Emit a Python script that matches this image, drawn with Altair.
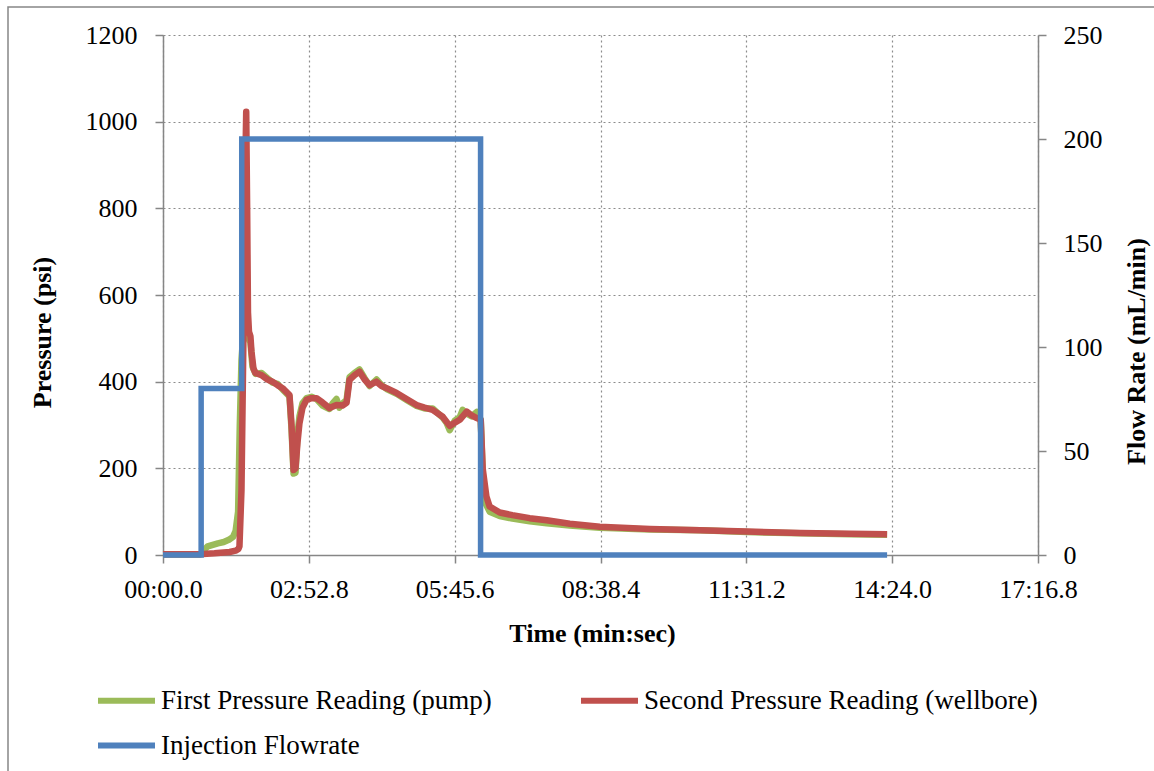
import altair as alt
import pandas as pd

# Series names and colours (Office palette)
series_names = [
    "First Pressure Reading (pump)",
    "Second Pressure Reading (wellbore)",
    "Injection Flowrate",
]
series_colors = ["#9BBB59", "#C0504D", "#4F81BD"]

# Pump pressure: elapsed seconds / psi
pump_time = [0, 43, 46, 49, 53, 58, 65, 72, 78, 83, 86, 89, 91, 93, 95, 97,
             101.3, 103.6, 106, 109.6, 116.7, 123.8, 129.7, 135.7, 141.6, 149.9,
             152.3, 154.7, 157, 159.4, 161.7, 165.3, 170, 176, 181.9, 189, 197.3,
             201, 205.6, 209, 212.8, 217.5, 221, 227, 232.9, 238.9, 244.8, 253,
             259, 265, 276.8, 288.6, 300.5, 310, 319.5, 331.4, 336, 339.7, 343,
             345.7, 351.6, 355, 359.9, 365.8, 371.8, 374, 376.5, 378.8, 381,
             383.2, 387, 399, 414, 434.5, 454.7, 482, 517.5, 577, 636.5, 692,
             755, 814, 858]
pump_psi = [1, 1, 3, 12, 20, 23, 27, 30, 35, 42, 55, 100, 300, 450, 505, 515,
            500, 490, 435, 418, 420, 408, 398, 395, 382, 366,
            290, 188, 190, 280, 320, 350, 362, 365, 360, 345, 337,
            350, 360, 340, 350, 358, 410, 420, 428, 408, 390, 405,
            392, 383, 372, 358, 344, 338, 338, 317, 305, 288, 300,
            310, 318, 335, 326, 320, 330, 318, 312, 190, 125,
            115, 100, 90, 84, 78, 73, 68, 63, 59, 57, 53,
            50, 48, 47]

# Wellbore pressure: elapsed seconds / psi
well_time = [0, 43, 61, 79, 86, 89.4, 90.6, 93, 95.3, 97.1, 98.6, 99.7, 100.7,
             101.9, 103.6, 104.8, 107.2, 109.6, 116.7, 123.8, 129.7, 135.7,
             141.6, 149.9, 152.3, 154.7, 157, 159.4, 161.7, 165.3, 170, 176,
             181.9, 189, 197.3, 205.6, 212.8, 217.5, 221, 227, 232.9, 238.9,
             244.8, 253, 259, 265, 276.8, 288.6, 300.5, 310, 319.5, 331.4,
             339.7, 345.7, 351.6, 359.9, 365.8, 371.8, 376.5, 378.8, 383.2,
             387, 399, 414, 434.5, 454.7, 482, 517.5, 577, 636.5, 692, 755,
             814, 858]
well_psi = [2, 2, 4, 7, 10, 14, 20, 150, 500, 850, 1023, 800, 560,
            515, 505, 470, 430, 420, 415, 405, 400, 392,
            385, 369, 300, 196, 200, 260, 304, 340, 358, 362,
            362, 352, 339, 346, 345, 351, 404, 415, 423, 405,
            392, 400, 390, 385, 374, 360, 346, 340, 335, 319,
            298, 305, 312, 331, 322, 316, 312, 200, 135,
            112, 98, 92, 85, 80, 72, 65, 60, 57, 54, 51,
            49, 48]

# Injection flow rate (mL/min), held until the next change
flow_time = [0, 45.2, 93.3, 376.3, 858]
flow_rate = [0, 80, 200, 0, 0]

time_ticks = [0, 172.8, 345.6, 518.4, 691.2, 864.0, 1036.8]
psi_ticks = [0, 200, 400, 600, 800, 1000, 1200]
flow_ticks = [0, 50, 100, 150, 200, 250]

pressure_df = pd.concat([
    pd.DataFrame({"t": pump_time, "value": pump_psi, "series": series_names[0]}),
    pd.DataFrame({"t": well_time, "value": well_psi, "series": series_names[1]}),
], ignore_index=True)
pressure_df["idx"] = range(len(pressure_df))

flow_df = pd.DataFrame({"t": flow_time, "value": flow_rate, "series": series_names[2]})

frame_df = pd.DataFrame({"k": [0]})

label_expr = ("format(floor(datum.value/60),'02d') + ':' + "
              "format(datum.value - 60*floor(datum.value/60), '04.1f')")

x_enc = alt.X(
    "t:Q",
    scale=alt.Scale(domain=[0, 1036.8], nice=False, zero=False),
    axis=alt.Axis(values=time_ticks, labelExpr=label_expr, title="Time (min:sec)",
                  grid=True, labelPadding=13, titleX=429, titleY=78,
                  titleBaseline="middle", titleAlign="center"),
)

legend = alt.Legend(
    title=None, orient="none", legendX=-68, legendY=634, columns=2,
    direction="horizontal",
    symbolType="stroke", symbolSize=3249, symbolStrokeWidth=6,
    labelFontSize=27, labelOffset=3, labelLimit=600,
    columnPadding=77, rowPadding=0, padding=0,
)
color_enc = alt.Color(
    "series:N",
    scale=alt.Scale(domain=series_names, range=series_colors),
    legend=legend,
)

frame = alt.Chart(frame_df).mark_rect(
    fillOpacity=0, stroke="#868686", strokeWidth=1.5
).encode(
    x=alt.value(-155), x2=alt.value(1010), y=alt.value(-28), y2=alt.value(760)
)

pressure = alt.Chart(pressure_df).mark_line(strokeWidth=6.5, strokeJoin="round").encode(
    x=x_enc,
    y=alt.Y(
        "value:Q",
        scale=alt.Scale(domain=[0, 1200], nice=False),
        axis=alt.Axis(values=psi_ticks, format="d", orient="left", title="Pressure (psi)",
                      grid=True, labelPadding=18, titleAngle=270, titleX=-121,
                      titleY=297, titleBaseline="middle", titleAlign="center"),
    ),
    color=color_enc,
    order="idx:Q",
)

flow = alt.Chart(flow_df).mark_line(strokeWidth=5.5, interpolate="step-after").encode(
    x=x_enc,
    y=alt.Y(
        "value:Q",
        scale=alt.Scale(domain=[0, 250], nice=False),
        axis=alt.Axis(values=flow_ticks, format="d", orient="right", title="Flow Rate (mL/min)",
                      grid=False, labelPadding=17, titleAngle=270, titleX=98,
                      titleY=316, titleBaseline="middle", titleAlign="center"),
    ),
    color=color_enc,
)

chart = alt.layer(frame, pressure, flow).resolve_scale(
    y="independent"
).properties(
    width=875,
    height=520,
    autosize=alt.AutoSizeParams(type="none"),
    padding={"left": 163, "top": 35, "right": 116, "bottom": 216},
    background="white",
).configure(
    font="Liberation Serif",
).configure_view(
    strokeWidth=0,
).configure_axis(
    domainColor="#868686",
    domainWidth=1.5,
    tickColor="#868686",
    tickWidth=1.5,
    tickSize=8,
    labelFlush=False,
    labelOverlap=False,
    labelFontSize=26,
    labelColor="#000000",
    labelFont="Liberation Serif",
    titleFontSize=26,
    titleFontWeight="bold",
    titleColor="#000000",
    titleFont="Liberation Serif",
    gridColor="#8c8c8c",
    gridDash=[2, 3],
    gridWidth=1.2,
).configure_legend(
    labelColor="#000000",
    labelFont="Liberation Serif",
)

chart.save("out.html", embed_options={"renderer": "svg", "actions": False})
